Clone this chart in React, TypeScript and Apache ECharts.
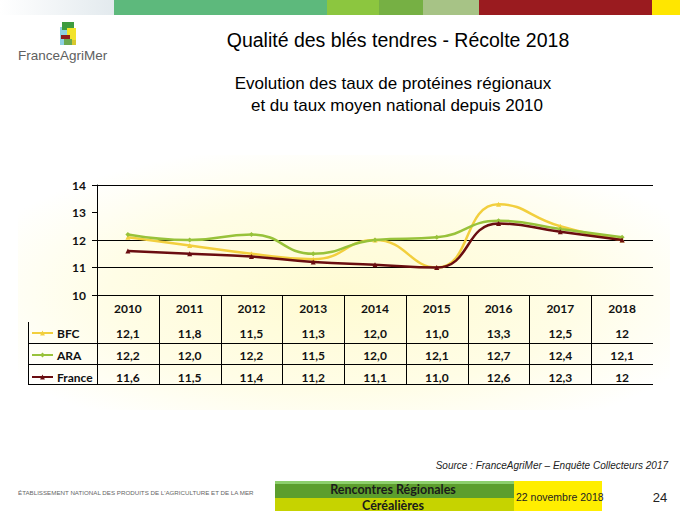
import React, { useEffect, useRef } from "react";
import * as echarts from "echarts";

const years = ["2010", "2011", "2012", "2013", "2014", "2015", "2016", "2017", "2018"];
const bfcValues = [12.1, 11.8, 11.5, 11.3, 12.0, 11.0, 13.3, 12.5, 12];
const araValues = [12.2, 12.0, 12.2, 11.5, 12.0, 12.1, 12.7, 12.4, 12.1];
const franceValues = [11.6, 11.5, 11.4, 11.2, 11.1, 11.0, 12.6, 12.3, 12];
const bfcLabels = ["12,1", "11,8", "11,5", "11,3", "12,0", "11,0", "13,3", "12,5", "12"];
const araLabels = ["12,2", "12,0", "12,2", "11,5", "12,0", "12,1", "12,7", "12,4", "12,1"];
const franceLabels = ["11,6", "11,5", "11,4", "11,2", "11,1", "11,0", "12,6", "12,3", "12"];
const seriesNames = ["BFC", "ARA", "France"];
const yMin = 10;
const yMax = 14;

const COLORS = { BFC: "#f2cf3e", ARA: "#98c23a", France: "#6a0d10" };
const FONT = "Lato, 'Liberation Sans', sans-serif";
const ARIAL = "'Liberation Sans', Arial, sans-serif";

const GRID = { left: 97, top: 185, width: 556, height: 110 };
const ROW_CENTERS = [333, 355, 377];

export default function App() {
  const ref = useRef<HTMLDivElement>(null);
  useEffect(() => {
    if (!ref.current) return;
    const chart = echarts.init(ref.current, undefined, { renderer: "svg" });
    const labelAxis = (data: string[], offset: number) => ({
      type: "category",
      gridIndex: 0,
      position: "bottom",
      offset,
      data,
      axisLine: { show: false },
      axisTick: { show: false },
      splitLine: { show: false },
      axisLabel: {
        interval: 0,
        margin: 7,
        color: "#111",
        fontFamily: FONT,
        fontWeight: "bold",
        fontSize: 12,
      },
    });
    const mkSeries = (name: string, data: number[], symbol: string) => ({
      name,
      type: "line",
      data,
      smooth: 0.5,
      symbol,
      symbolSize: 5,
      showSymbol: true,
      lineStyle: { color: (COLORS as any)[name], width: 2.5 },
      itemStyle: { color: (COLORS as any)[name] },
      z: name === "France" ? 3 : 2,
    });
    const legends = seriesNames.map((name, i) => ({
      data: [name],
      orient: "vertical",
      left: 31,
      top: ROW_CENTERS[i] - 7,
      itemWidth: 21,
      itemHeight: 6,
      padding: 0,
      selectedMode: false,
      textStyle: {
        color: "#111",
        fontFamily: FONT,
        fontWeight: "bold",
        fontSize: 12,
        lineHeight: 14,
        height: 14,
        padding: [0, 0, 0, -1],
      },
    }));
    chart.setOption({
      animation: false,
      backgroundColor: "#ffffff",
      grid: { ...GRID, containLabel: false },
      legend: legends,
      xAxis: [
        {
          type: "category",
          data: years,
          boundaryGap: true,
          axisLine: { show: true, lineStyle: { color: "#000", width: 1 } },
          axisTick: { show: false },
          splitLine: { show: false },
          axisLabel: {
            interval: 0,
            margin: 7,
            color: "#111",
            fontFamily: FONT,
            fontWeight: "bold",
            fontSize: 12,
          },
        },
        labelAxis(bfcLabels, 25),
        labelAxis(araLabels, 47),
        labelAxis(franceLabels, 69),
      ],
      yAxis: {
        type: "value",
        min: yMin,
        max: yMax,
        interval: 1,
        axisLine: { show: true, lineStyle: { color: "#000", width: 1 } },
        axisTick: { show: true, length: 5, lineStyle: { color: "#000" } },
        splitLine: {
          show: true,
          lineStyle: { color: ["#000", "#000", "#000", "rgba(0,0,0,0)", "#000"], width: 1 },
        },
        axisLabel: {
          margin: 11,
          color: "#111",
          fontFamily: FONT,
          fontWeight: "bold",
          fontSize: 12,
        },
      },
      series: [
        mkSeries("BFC", bfcValues, "triangle"),
        mkSeries("ARA", araValues, "diamond"),
        mkSeries("France", franceValues, "triangle"),
      ],
    });

    // table lines from the axis scale
    const c0 = chart.convertToPixel({ xAxisIndex: 0 }, 0) as number;
    const c1 = chart.convertToPixel({ xAxisIndex: 0 }, 1) as number;
    const bw = c1 - c0;
    const axisY = chart.convertToPixel({ yAxisIndex: 0 }, yMin) as number;
    const rightX = GRID.left + GRID.width;
    const tableBottom = 384;
    const lineStyle = { stroke: "#000", lineWidth: 1 };
    const tableLines: any[] = [];
    for (let i = 0; i < years.length; i++) {
      const x = Math.round(c0 + (i - 0.5) * bw) + 0.5;
      tableLines.push({ type: "line", shape: { x1: x, y1: axisY, x2: x, y2: tableBottom }, style: lineStyle, z: 5 });
    }
    tableLines.push({ type: "line", shape: { x1: 28.5, y1: 322, x2: 28.5, y2: tableBottom }, style: lineStyle, z: 5 });
    [343.5, 364.5, tableBottom + 0.5].forEach((y) => {
      tableLines.push({ type: "line", shape: { x1: 28, y1: y, x2: rightX, y2: y }, style: lineStyle, z: 5 });
    });

    const band = [
      { x: 0, w: 114, c: null },
      { x: 114, w: 213, c: "#5db97c" },
      { x: 327, w: 52, c: "#8cc63f" },
      { x: 379, w: 44, c: "#76b044" },
      { x: 423, w: 56, c: "#a7c386" },
      { x: 479, w: 173, c: "#9a1b1f" },
      { x: 652, w: 28, c: "#ffe600" },
    ];
    const bandEls: any[] = band.map((b) => ({
      type: "rect",
      shape: { x: b.x, y: 0, width: b.w, height: 15 },
      style: {
        fill:
          b.c ||
          new echarts.graphic.LinearGradient(0, 0, 1, 0, [
            { offset: 0, color: "#ffffff" },
            { offset: 1, color: "#e3eaee" },
          ]),
      },
      z: 1,
    }));

    const logo: any[] = [
      { type: "rect", shape: { x: 60, y: 27, width: 7, height: 18 }, style: { fill: "#8fd0e2" } },
      { type: "rect", shape: { x: 62, y: 22, width: 12, height: 8 }, style: { fill: "#3e9b3f" } },
      { type: "rect", shape: { x: 67, y: 28, width: 9, height: 12 }, style: { fill: "#f2e32a" } },
      { type: "rect", shape: { x: 61, y: 35, width: 9, height: 4 }, style: { fill: "#8f1c1c" } },
      { type: "rect", shape: { x: 64, y: 39, width: 8, height: 6 }, style: { fill: "#6aa84f" } },
      { type: "rect", shape: { x: 72, y: 40, width: 4, height: 5 }, style: { fill: "#d7c92e" } },
      {
        type: "text",
        style: { text: "FranceAgriMer", x: 18, y: 55, fill: "#606060", font: `13.5px ${ARIAL}`, textVerticalAlign: "middle" },
      },
    ];

    const texts: any[] = [
      {
        type: "text",
        style: { text: "Qualité des blés tendres - Récolte 2018", x: 398, y: 40, textAlign: "center", textVerticalAlign: "middle", fill: "#000", font: `19.5px ${ARIAL}` },
      },
      {
        type: "text",
        style: { text: "Evolution des taux de protéines régionaux", x: 393, y: 83, textAlign: "center", textVerticalAlign: "middle", fill: "#000", font: `17px ${ARIAL}` },
      },
      {
        type: "text",
        style: { text: "et du taux moyen national depuis 2010", x: 397, y: 105, textAlign: "center", textVerticalAlign: "middle", fill: "#000", font: `17px ${ARIAL}` },
      },
      {
        type: "text",
        style: { text: "Source : FranceAgriMer – Enquête Collecteurs 2017", x: 668, y: 465, textAlign: "right", textVerticalAlign: "middle", fill: "#222", font: `italic 10px ${ARIAL}` },
      },
      {
        type: "text",
        style: { text: "ÉTABLISSEMENT NATIONAL DES PRODUITS DE L'AGRICULTURE ET DE LA MER", x: 18, y: 492, textVerticalAlign: "middle", fill: "#666", font: `6.2px ${ARIAL}` },
      },
      { type: "rect", shape: { x: 275, y: 481, width: 239, height: 30 }, style: { fill: "#c6d300" } },
      { type: "rect", shape: { x: 275, y: 481, width: 239, height: 17 }, style: { fill: "#5c9e2d" } },
      { type: "rect", shape: { x: 275, y: 481, width: 239, height: 3 }, style: { fill: "#8dcf6c" } },
      { type: "rect", shape: { x: 514, y: 481, width: 88, height: 30 }, style: { fill: "#ffee00" } },
      {
        type: "text",
        style: { text: "Rencontres Régionales", x: 393, y: 489, textAlign: "center", textVerticalAlign: "middle", fill: "#1a1a1a", font: `bold 12.5px ${FONT}` },
      },
      {
        type: "text",
        style: { text: "Céréalières", x: 393, y: 505, textAlign: "center", textVerticalAlign: "middle", fill: "#1a1a1a", font: `bold 12.5px ${FONT}` },
      },
      {
        type: "text",
        style: { text: "22 novembre 2018", x: 516, y: 497, textVerticalAlign: "middle", fill: "#222", font: `10.5px ${ARIAL}` },
      },
      {
        type: "text",
        style: { text: "24", x: 660, y: 497, textAlign: "center", textVerticalAlign: "middle", fill: "#222", font: `13px ${ARIAL}` },
      },
    ];

    const bg = {
      type: "rect",
      shape: { x: 18, y: 155, width: 652, height: 255 },
      style: {
        fill: new echarts.graphic.RadialGradient(0.5, 0.55, 0.6, [
          { offset: 0, color: "#fffbd2" },
          { offset: 0.6, color: "#fffde6" },
          { offset: 1, color: "#ffffff" },
        ]),
      },
      z: -10,
    };

    chart.setOption({ graphic: [bg, ...bandEls, ...logo, ...texts, ...tableLines] });

    return () => chart.dispose();
  }, []);
  return (
    <div
      ref={ref}
      style={{ position: "fixed", left: 0, top: 0, width: 680, height: 511 }}
    />
  );
}
